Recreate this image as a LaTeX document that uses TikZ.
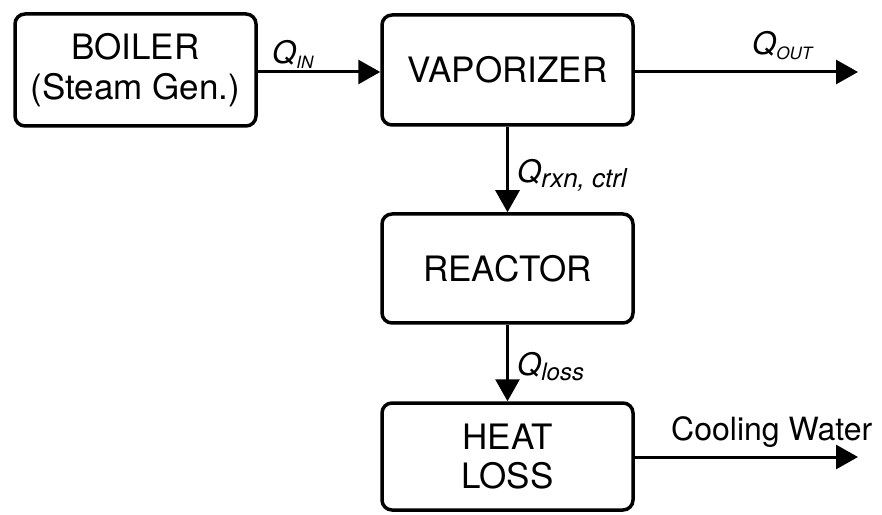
\documentclass[tikz,border=0pt]{standalone}
\usepackage{fontspec}
\setmainfont{TeX Gyre Heros}
\usetikzlibrary{arrows.meta,positioning}
\newcommand{\qsub}[2]{\textit{Q}\raisebox{-5pt}{\fontsize{#1}{#1}\selectfont\textit{#2}}}

\begin{document}
\begin{tikzpicture}[
  x=1pt,y=1pt,
  unit/.style={draw,line width=3.5pt,rounded corners=10pt,minimum width=251pt,minimum height=110pt,align=center,inner sep=0pt,font=\fontsize{35}{39}\selectfont},
  flow/.style={-{Triangle[length=22pt,width=24pt]},line width=3pt},
  qlab/.style={inner sep=0pt,anchor=base west,font=\fontsize{31}{32}\selectfont}
]
  \useasboundingbox (0,0) rectangle (882,514);
  \node[unit,minimum width=241pt,minimum height=112pt,font=\fontsize{35}{40}\selectfont] (boiler) at (135.5,444) {BOILER\\(Steam Gen.)};
  \node[unit] (vap) at (507.5,444) {VAPORIZER};
  \node[unit,minimum height=109pt] (reac) at (507.5,245.5) {REACTOR};
  \node[unit,minimum height=107pt] (loss) at (507.5,57.5) {HEAT\\LOSS};
  \coordinate (qout) at (858,442);
  \coordinate (cw) at (858,57);
  \draw[flow] (boiler.east |- 0,442) -- (vap.west |- 0,442);
  \draw[flow] (vap.east |- qout) -- (qout);
  \draw[flow] (vap.south) -- (reac.north);
  \draw[flow] (reac.south) -- (loss.north);
  \draw[flow] (loss.east |- cw) -- (cw);
  % flow labels
  \node[qlab] (qin) at (272,450) {\qsub{17}{IN}};
  \node[qlab] (qo) at (752,459) {\qsub{17}{OUT}};
  \node[qlab] (qrx) at (517,331) {\qsub{26}{rxn, ctrl}};
  \node[qlab] (ql) at (517,139) {\qsub{24}{loss}};
  \node[qlab,font=\fontsize{32}{32}\selectfont] (cwl) at (671,74) {Cooling Water};
\end{tikzpicture}
\end{document}
